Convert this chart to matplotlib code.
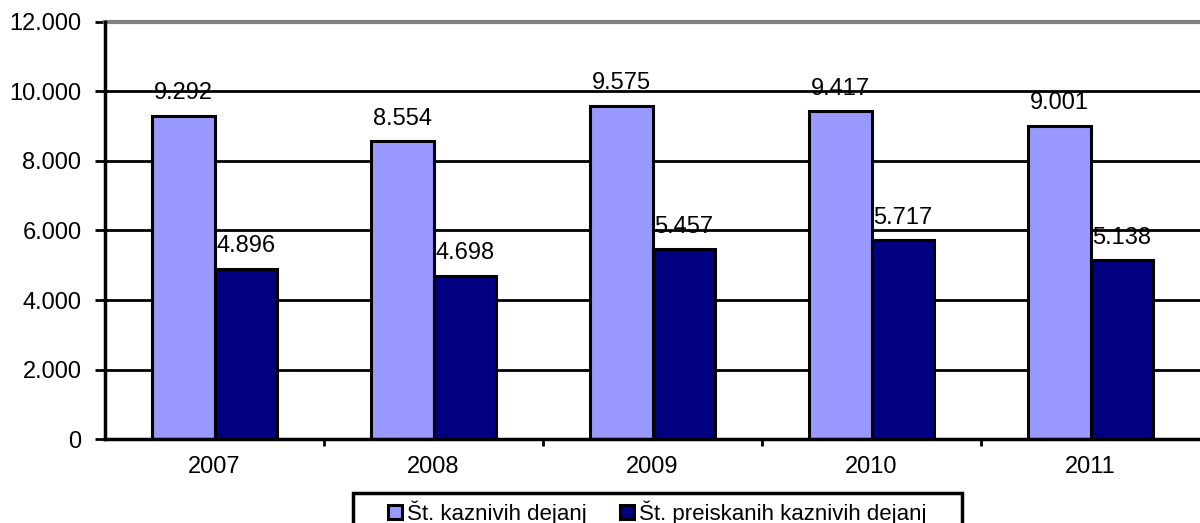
import matplotlib
matplotlib.use('Agg')
import matplotlib.pyplot as plt
from matplotlib.ticker import FuncFormatter, FixedLocator
from matplotlib.patches import Rectangle
import numpy as np

plt.rcParams['font.family'] = ['Liberation Sans', 'DejaVu Sans']

years = ['2007', '2008', '2009', '2010', '2011']
kazniva = [9292, 8554, 9575, 9417, 9001]
preiskana = [4896, 4698, 5457, 5717, 5138]
labels = ['Št. kaznivih dejanj', 'Št. preiskanih kaznivih dejanj']

c_light = '#9999FF'
c_dark = '#000080'


def pike(v, pos=None):
    return f"{int(v):,}".replace(",", ".")


W, H = 1200, 523
fig = plt.figure(figsize=(W / 100, H / 100), dpi=100)
ax = fig.add_axes([105 / W, 1 - 439.3 / H, 1 - 105 / W, (439.3 - 21.5) / H])

x = np.arange(len(years))
w = 0.285
b1 = ax.bar(x - w / 2, kazniva, w, color=c_light, edgecolor='black', linewidth=2.2, zorder=3, label=labels[0])
b2 = ax.bar(x + w / 2, preiskana, w, color=c_dark, edgecolor='black', linewidth=2.2, zorder=3, label=labels[1])

for bars, vals in [(b1, kazniva), (b2, preiskana)]:
    for r, v in zip(bars, vals):
        ax.annotate(pike(v), (r.get_x() + r.get_width() / 2, v), xytext=(0, 12),
                    textcoords='offset points', ha='center', va='baseline',
                    fontsize=17, zorder=1)

# mreza
for yv in range(2000, 12000, 2000):
    ax.axhline(yv, color='black', linewidth=2, zorder=2)
ax.axhline(12000, color='#808080', linewidth=3, zorder=2, clip_on=False)

ax.set_ylim(0, 12000)
ax.set_xlim(-0.5, len(years) - 0.5)
ax.set_yticks(range(0, 12001, 2000))
ax.yaxis.set_major_formatter(FuncFormatter(pike))
ax.set_xticks(x)
ax.set_xticklabels(years)
ax.xaxis.set_minor_locator(FixedLocator(np.arange(0.5, len(years) - 0.5, 1)))

ax.tick_params(axis='y', labelsize=17, length=7, width=2, pad=10)
ax.tick_params(axis='x', which='major', labelsize=17, length=0, pad=12)
ax.tick_params(axis='x', which='minor', length=5, width=2)

for s in ['top', 'right']:
    ax.spines[s].set_visible(False)
ax.spines['left'].set_linewidth(2.5)
ax.spines['bottom'].set_linewidth(2.5)
ax.spines['left'].set_zorder(4)
ax.spines['bottom'].set_zorder(4)

# legenda (okvir posebej, ker je levo/desno vec prostora)
leg = fig.legend(loc='upper center', bbox_to_anchor=(657.5 / W, 1 - 496 / H), ncol=2,
                 fontsize=16, frameon=False,
                 handlelength=0.6, handleheight=0.6, handletextpad=0.25,
                 columnspacing=1.5, borderpad=0.2, borderaxespad=0)
fig.add_artist(Rectangle((353 / W, -0.05), (962 - 353) / W, 0.05 + 1 - 493 / H,
                         transform=fig.transFigure, fill=False, edgecolor='black',
                         linewidth=2.5, clip_on=False))

fig.savefig('out.png', dpi=100)
